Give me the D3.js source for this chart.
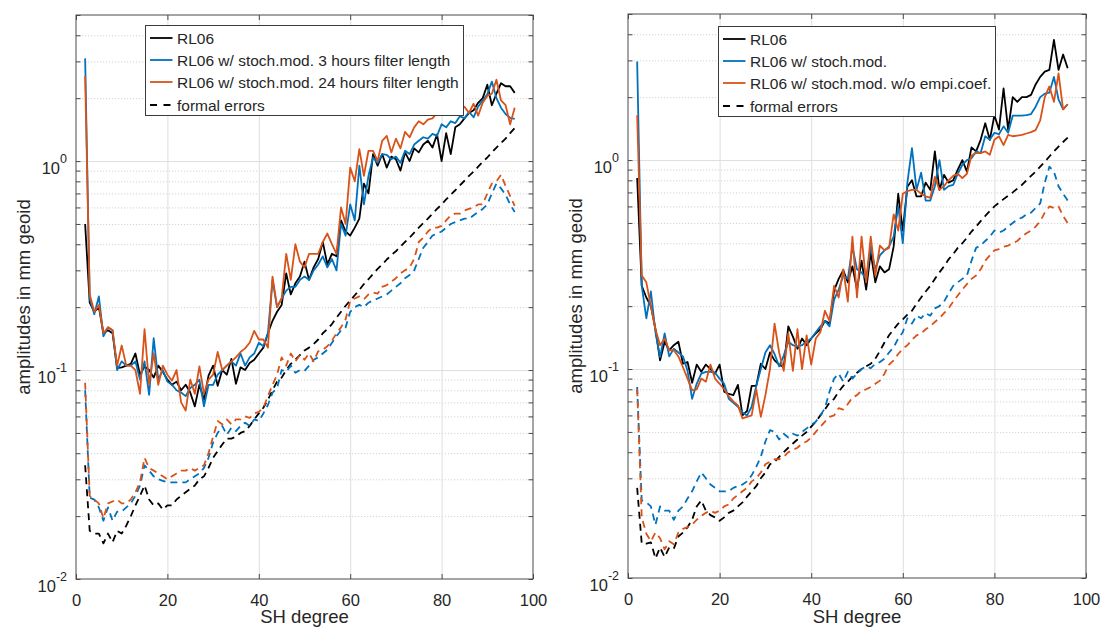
<!DOCTYPE html>
<html>
<head>
<meta charset="utf-8">
<script src="https://cdn.jsdelivr.net/npm/d3@7"></script>
<style>
  html, body { margin: 0; padding: 0; background: #fff; }
  svg { display: block; font-family: "Liberation Sans", Arial, Helvetica, sans-serif; }
</style>
</head>
<body>
<svg id="fig" width="1100" height="627"></svg>
<script>
// ---------- data ----------
const degrees = d3.range(2, 97);            // SH degree 2 … 96
const xDomain = [0, 100];
const yDomain = [0.01, 5];
const xTickValues = [0, 20, 40, 60, 80, 100];
const xGridValues = [20, 40, 60, 80];
const yDecades = [0.01, 0.1, 1];
const yTickExponents = ["-2", "-1", "0"];
const xAxisLabel = "SH degree";
const yAxisLabel = "amplitudes in mm geoid";

const legendLeft = ["RL06", "RL06 w/ stoch.mod. 3 hours filter length",
                    "RL06 w/ stoch.mod. 24 hours filter length", "formal errors"];
const legendRight = ["RL06", "RL06 w/ stoch.mod.",
                     "RL06 w/ stoch.mod. w/o empi.coef.", "formal errors"];

// left panel: degree amplitudes
const leftRL06 = [
  0.50, 0.21, 0.19, 0.20, 0.15, 0.155, 0.15, 0.102, 0.103, 0.105,
  0.107, 0.12, 0.095, 0.104, 0.10, 0.092, 0.105, 0.098, 0.09, 0.085,
  0.088, 0.08, 0.085, 0.078, 0.067, 0.085, 0.072, 0.094, 0.105, 0.084,
  0.10, 0.095, 0.113, 0.086, 0.103, 0.10, 0.108, 0.112, 0.12, 0.128,
  0.15, 0.172, 0.19, 0.205, 0.29, 0.23, 0.26, 0.28, 0.33, 0.27,
  0.31, 0.34, 0.41, 0.32, 0.36, 0.35, 0.52, 0.46, 0.44, 0.48,
  0.53, 0.78, 0.70, 1.08, 0.95, 1.08, 0.93, 1.05, 1.02, 0.90,
  1.10, 1.00, 1.15, 1.10, 1.20, 1.25, 1.16, 1.34, 1.00, 1.36,
  1.08, 1.45, 1.50, 1.60, 1.70, 1.75, 1.90, 2.00, 2.32, 1.85,
  2.10, 2.36, 2.28, 2.28, 2.12
];
const leftStoch3h = [
  3.1, 0.22, 0.185, 0.225, 0.145, 0.16, 0.155, 0.10, 0.11, 0.105,
  0.105, 0.11, 0.09, 0.11, 0.076, 0.142, 0.09, 0.10, 0.088, 0.085,
  0.08, 0.078, 0.075, 0.082, 0.085, 0.09, 0.067, 0.085, 0.085, 0.095,
  0.10, 0.105, 0.11, 0.105, 0.12, 0.105, 0.115, 0.12, 0.135, 0.13,
  0.15, 0.27, 0.20, 0.22, 0.24, 0.25, 0.25, 0.27, 0.28, 0.27,
  0.30, 0.32, 0.35, 0.31, 0.34, 0.30, 0.50, 0.44, 0.62, 0.52,
  0.95, 0.62, 0.85, 1.04, 0.98, 1.08, 1.07, 1.02, 1.05, 0.98,
  1.12, 1.08, 1.20, 1.25, 1.30, 1.28, 1.35, 1.32, 1.50, 1.45,
  1.55, 1.52, 1.64, 1.60, 1.72, 1.62, 1.82, 1.95, 2.09, 2.40,
  2.00, 1.80, 1.68, 1.61, 1.59
];
const leftStoch24h = [
  2.55, 0.23, 0.19, 0.205, 0.15, 0.16, 0.155, 0.105, 0.131, 0.105,
  0.105, 0.10, 0.077, 0.157, 0.085, 0.12, 0.085, 0.105, 0.095, 0.089,
  0.10, 0.07, 0.064, 0.09, 0.077, 0.104, 0.077, 0.09, 0.095, 0.122,
  0.10, 0.105, 0.11, 0.115, 0.122, 0.127, 0.135, 0.154, 0.14, 0.14,
  0.128, 0.28, 0.20, 0.22, 0.36, 0.27, 0.40, 0.33, 0.31, 0.36,
  0.36, 0.36, 0.41, 0.45, 0.40, 0.36, 0.60, 0.50, 0.93, 0.80,
  1.14, 0.85, 1.12, 1.12, 1.00, 1.25, 1.32, 1.10, 1.28, 1.15,
  1.38, 1.30, 1.45, 1.55, 1.50, 1.58, 1.60, 1.70, 1.68, 1.78,
  1.70, 1.85, 1.75, 1.82, 1.70, 1.88, 1.65, 1.90, 2.05, 2.10,
  2.45, 1.95, 1.85, 1.50, 1.80
];
// left panel: formal errors
const leftFormalRL06 = [
  0.035, 0.017, 0.0165, 0.0165, 0.0148, 0.0165, 0.015, 0.017, 0.0165, 0.018,
  0.020, 0.0225, 0.025, 0.028, 0.024, 0.0225, 0.023, 0.0215, 0.0225, 0.0225,
  0.024, 0.025, 0.026, 0.027, 0.028, 0.030, 0.031, 0.034, 0.038, 0.041,
  0.044, 0.047, 0.047, 0.048, 0.050, 0.051, 0.054, 0.058, 0.062, 0.066,
  0.072, 0.080, 0.088, 0.092, 0.100, 0.107, 0.112, 0.118, 0.124, 0.128,
  0.133, 0.140, 0.150, 0.157, 0.166, 0.178, 0.190, 0.203, 0.215, 0.228,
  0.242, 0.258, 0.272, 0.288, 0.305, 0.32, 0.338, 0.355, 0.37, 0.39,
  0.41, 0.43, 0.455, 0.48, 0.505, 0.53, 0.56, 0.59, 0.62, 0.655,
  0.69, 0.725, 0.765, 0.805, 0.85, 0.89, 0.94, 0.99, 1.04, 1.10,
  1.16, 1.22, 1.28, 1.36, 1.44
];
const leftFormal3h = [
  0.08, 0.0245, 0.024, 0.022, 0.019, 0.022, 0.019, 0.021, 0.021, 0.022,
  0.023, 0.025, 0.028, 0.035, 0.033, 0.031, 0.030, 0.0295, 0.029, 0.029,
  0.029, 0.029, 0.029, 0.030, 0.031, 0.032, 0.034, 0.038, 0.045, 0.050,
  0.054, 0.049, 0.053, 0.051, 0.054, 0.056, 0.054, 0.058, 0.057, 0.062,
  0.068, 0.078, 0.082, 0.10, 0.098, 0.105, 0.097, 0.10, 0.099, 0.105,
  0.112, 0.115, 0.12, 0.125, 0.135, 0.145, 0.155, 0.16, 0.19, 0.20,
  0.205, 0.20, 0.21, 0.215, 0.22, 0.225, 0.23, 0.24, 0.25, 0.26,
  0.275, 0.285, 0.30, 0.34, 0.385, 0.41, 0.44, 0.45, 0.46, 0.48,
  0.50, 0.51, 0.52, 0.53, 0.53, 0.55, 0.57, 0.59, 0.62, 0.70,
  0.78, 0.74, 0.69, 0.62, 0.57
];
const leftFormal24h = [
  0.087, 0.025, 0.024, 0.023, 0.0195, 0.023, 0.0235, 0.024, 0.023, 0.023,
  0.024, 0.026, 0.029, 0.038, 0.034, 0.033, 0.032, 0.031, 0.030, 0.031,
  0.032, 0.033, 0.033, 0.034, 0.033, 0.034, 0.035, 0.040, 0.048, 0.057,
  0.055, 0.058, 0.055, 0.058, 0.058, 0.060, 0.059, 0.062, 0.063, 0.066,
  0.075, 0.085, 0.095, 0.115, 0.105, 0.12, 0.11, 0.118, 0.112, 0.12,
  0.11, 0.123, 0.125, 0.13, 0.138, 0.15, 0.16, 0.175, 0.215, 0.22,
  0.225, 0.218, 0.23, 0.235, 0.232, 0.25, 0.255, 0.265, 0.275, 0.29,
  0.30, 0.31, 0.34, 0.41, 0.43, 0.46, 0.48, 0.48, 0.49, 0.52,
  0.55, 0.56, 0.56, 0.58, 0.59, 0.60, 0.62, 0.62, 0.70, 0.78,
  0.80, 0.86, 0.76, 0.68, 0.61
];

// right panel: degree amplitudes
const rightRL06 = [
  0.82, 0.25, 0.22, 0.20, 0.155, 0.11, 0.135, 0.123, 0.13, 0.135,
  0.106, 0.108, 0.086, 0.105, 0.097, 0.105, 0.10, 0.095, 0.105, 0.078,
  0.076, 0.075, 0.084, 0.060, 0.063, 0.083, 0.083, 0.106, 0.10, 0.12,
  0.11, 0.105, 0.102, 0.16, 0.143, 0.125, 0.14, 0.13, 0.14, 0.148,
  0.155, 0.17, 0.165, 0.238, 0.27, 0.297, 0.26, 0.31, 0.24, 0.33,
  0.24, 0.36, 0.26, 0.31, 0.29, 0.30, 0.385, 0.69, 0.46, 0.745,
  0.80, 0.67, 0.67, 0.78, 0.72, 1.10, 0.72, 0.85, 0.78, 0.80,
  0.90, 1.00, 0.88, 1.15, 1.10, 1.25, 1.50, 1.25, 1.64, 1.40,
  2.20, 1.40, 2.00, 1.90, 2.00, 2.00, 2.05, 2.30, 2.50, 2.65,
  2.70, 3.76, 2.70, 3.20, 2.75
];
const rightStoch = [
  2.96, 0.25, 0.175, 0.235, 0.15, 0.114, 0.148, 0.115, 0.125, 0.12,
  0.115, 0.098, 0.072, 0.085, 0.095, 0.097, 0.097, 0.096, 0.09, 0.085,
  0.072, 0.069, 0.066, 0.062, 0.06, 0.066, 0.083, 0.10, 0.12, 0.13,
  0.118, 0.103, 0.116, 0.135, 0.13, 0.128, 0.13, 0.135, 0.14, 0.15,
  0.16, 0.17, 0.16, 0.215, 0.24, 0.28, 0.27, 0.385, 0.30, 0.29,
  0.27, 0.385, 0.30, 0.35, 0.37, 0.385, 0.43, 0.60, 0.40, 0.78,
  1.14, 0.72, 0.87, 0.64, 0.64, 0.75, 1.00, 0.72, 0.75, 0.76,
  0.86, 0.95, 1.00, 1.02, 1.10, 1.08, 1.30, 1.25, 1.35, 1.33,
  1.45, 1.35, 1.63, 1.63, 1.63, 1.64, 1.66, 1.80, 2.00, 2.08,
  2.10, 2.50, 1.95, 1.75, 1.85
];
const rightNoEmpi = [
  1.64, 0.28, 0.26, 0.20, 0.155, 0.13, 0.14, 0.123, 0.123, 0.115,
  0.102, 0.09, 0.079, 0.08, 0.09, 0.087, 0.105, 0.09, 0.085, 0.08,
  0.074, 0.07, 0.067, 0.058, 0.059, 0.06, 0.08, 0.059, 0.075, 0.10,
  0.165, 0.12, 0.098, 0.148, 0.098, 0.155, 0.10, 0.145, 0.105, 0.14,
  0.15, 0.19, 0.17, 0.25, 0.22, 0.30, 0.21, 0.43, 0.22, 0.43,
  0.26, 0.43, 0.28, 0.39, 0.37, 0.38, 0.55, 0.46, 0.69, 0.71,
  0.72, 0.72, 0.69, 0.67, 0.66, 0.83, 0.72, 0.75, 0.80, 0.84,
  0.86, 0.82, 0.86, 1.05, 1.08, 1.08, 1.10, 1.06, 1.25, 1.30,
  1.18, 1.32, 1.30, 1.31, 1.32, 1.34, 1.36, 1.39, 1.55, 2.00,
  2.25, 1.90, 2.60, 1.75, 1.85
];
// right panel: formal errors
const rightFormalRL06 = [
  0.027, 0.0146, 0.0146, 0.0148, 0.0124, 0.014, 0.0126, 0.014, 0.0138, 0.0158,
  0.0165, 0.0175, 0.019, 0.022, 0.0235, 0.021, 0.020, 0.0195, 0.0188, 0.0195,
  0.0205, 0.021, 0.022, 0.023, 0.0245, 0.026, 0.0275, 0.030, 0.032, 0.035,
  0.036, 0.038, 0.040, 0.042, 0.044, 0.046, 0.048, 0.050, 0.053, 0.056,
  0.060, 0.064, 0.069, 0.072, 0.078, 0.083, 0.087, 0.092, 0.096, 0.100,
  0.103, 0.106, 0.112, 0.122, 0.134, 0.145, 0.155, 0.165, 0.173, 0.182,
  0.19, 0.205, 0.22, 0.235, 0.25, 0.27, 0.29, 0.31, 0.335, 0.355,
  0.38, 0.40, 0.425, 0.455, 0.48, 0.51, 0.54, 0.57, 0.60, 0.625,
  0.65, 0.675, 0.70, 0.73, 0.76, 0.80, 0.84, 0.88, 0.93, 0.98,
  1.04, 1.10, 1.16, 1.22, 1.28
];
const rightFormalStoch = [
  0.082, 0.0235, 0.023, 0.022, 0.018, 0.022, 0.021, 0.021, 0.019, 0.021,
  0.022, 0.024, 0.026, 0.029, 0.032, 0.030, 0.028, 0.027, 0.026, 0.026,
  0.026, 0.027, 0.0275, 0.028, 0.029, 0.031, 0.034, 0.038, 0.045, 0.051,
  0.050, 0.046, 0.049, 0.047, 0.049, 0.048, 0.050, 0.052, 0.054, 0.056,
  0.060, 0.065, 0.078, 0.090, 0.095, 0.087, 0.097, 0.090, 0.095, 0.100,
  0.103, 0.101, 0.106, 0.108, 0.112, 0.12, 0.127, 0.14, 0.15, 0.175,
  0.165, 0.18, 0.175, 0.185, 0.18, 0.195, 0.20, 0.21, 0.23, 0.25,
  0.26, 0.27, 0.28, 0.33, 0.38, 0.39, 0.41, 0.43, 0.46, 0.45,
  0.46, 0.48, 0.50, 0.52, 0.53, 0.55, 0.56, 0.59, 0.62, 0.78,
  0.93, 0.88, 0.75, 0.69, 0.64
];
const rightFormalNoEmpi = [
  0.08, 0.0195, 0.0163, 0.015, 0.0165, 0.0155, 0.0137, 0.015, 0.0145, 0.0165,
  0.0172, 0.0175, 0.018, 0.019, 0.0198, 0.0205, 0.021, 0.0205, 0.021, 0.022,
  0.0225, 0.024, 0.025, 0.026, 0.027, 0.029, 0.030, 0.032, 0.035, 0.036,
  0.037, 0.037, 0.038, 0.040, 0.041, 0.042, 0.044, 0.045, 0.047, 0.050,
  0.053, 0.056, 0.059, 0.060, 0.065, 0.064, 0.068, 0.073, 0.075, 0.079,
  0.080, 0.082, 0.085, 0.088, 0.095, 0.105, 0.11, 0.118, 0.125, 0.13,
  0.138, 0.145, 0.148, 0.155, 0.16, 0.168, 0.175, 0.185, 0.195, 0.21,
  0.225, 0.24, 0.255, 0.27, 0.28, 0.30, 0.33, 0.35, 0.37, 0.375,
  0.385, 0.39, 0.40, 0.41, 0.43, 0.446, 0.46, 0.48, 0.51, 0.56,
  0.60, 0.59, 0.60, 0.54, 0.50
];

// ---------- styling / layout ----------
const COLORS = { black: "#000000", blue: "#0072BD", orange: "#D95319" };
const INK = "#262626";
const AXIS_STROKE = "#4a4a4a";
const TICK_FONT = 16.5, LABEL_FONT = 18.5, LEGEND_FONT = 15.5;

const panels = [
  {
    box: { x0: 76, x1: 533, y0: 15, y1: 579 },
    legend: { x: 145.5, y: 25.5, w: 318, h: 90, labels: legendLeft },
    series: [
      { values: leftRL06, color: COLORS.black, dashed: false },
      { values: leftStoch3h, color: COLORS.blue, dashed: false },
      { values: leftStoch24h, color: COLORS.orange, dashed: false },
      { values: leftFormalRL06, color: COLORS.black, dashed: true },
      { values: leftFormal3h, color: COLORS.blue, dashed: true },
      { values: leftFormal24h, color: COLORS.orange, dashed: true }
    ]
  },
  {
    box: { x0: 628, x1: 1086, y0: 14, y1: 578 },
    legend: { x: 718.5, y: 26.5, w: 277, h: 90, labels: legendRight },
    series: [
      { values: rightRL06, color: COLORS.black, dashed: false },
      { values: rightStoch, color: COLORS.blue, dashed: false },
      { values: rightNoEmpi, color: COLORS.orange, dashed: false },
      { values: rightFormalRL06, color: COLORS.black, dashed: true },
      { values: rightFormalStoch, color: COLORS.blue, dashed: true },
      { values: rightFormalNoEmpi, color: COLORS.orange, dashed: true }
    ]
  }
];
const legendStyles = [
  { color: COLORS.black, dashed: false },
  { color: COLORS.blue, dashed: false },
  { color: COLORS.orange, dashed: false },
  { color: COLORS.black, dashed: true }
];

const svg = d3.select("#fig");
svg.append("rect").attr("width", 1100).attr("height", 627).attr("fill", "#fff");

panels.forEach((p, pi) => {
  const b = p.box;
  const w = b.x1 - b.x0, h = b.y1 - b.y0;
  const x = d3.scaleLinear().domain(xDomain).range([b.x0, b.x1]);
  const y = d3.scaleLog().domain(yDomain).range([b.y1, b.y0]);
  const allY = y.ticks();                       // 0.01,0.02,…,1,2,…,5
  const minorY = allY.filter(v => !yDecades.some(d => Math.abs(v - d) < 1e-12));
  const g = svg.append("g").attr("class", "panel-" + pi);

  // --- grid ---
  const gridMinor = g.append("g").attr("transform", `translate(${b.x0},0)`)
    .call(d3.axisLeft(y).tickValues(minorY.filter(v => v < yDomain[1])).tickSize(-w).tickFormat(""));
  gridMinor.select(".domain").remove();
  gridMinor.selectAll("line").attr("stroke", "#c8c8c8").attr("stroke-width", 0.8)
    .attr("stroke-dasharray", "1.2,1.8");

  const gridMajorY = g.append("g").attr("transform", `translate(${b.x0},0)`)
    .call(d3.axisLeft(y).tickValues(yDecades.slice(1)).tickSize(-w).tickFormat(""));
  gridMajorY.select(".domain").remove();
  gridMajorY.selectAll("line").attr("stroke", "#dedede").attr("stroke-width", 1);

  const gridX = g.append("g").attr("transform", `translate(0,${b.y1})`)
    .call(d3.axisBottom(x).tickValues(xGridValues).tickSize(-h).tickFormat(""));
  gridX.select(".domain").remove();
  gridX.selectAll("line").attr("stroke", "#dedede").attr("stroke-width", 1);

  // --- data lines ---
  const clipId = "clip" + pi;
  g.append("clipPath").attr("id", clipId).append("rect")
    .attr("x", b.x0).attr("y", b.y0).attr("width", w).attr("height", h);
  const line = d3.line().x((d, i) => x(degrees[i])).y(d => y(d));
  const dataG = g.append("g").attr("clip-path", `url(#${clipId})`);
  p.series.forEach(s => {
    dataG.append("path").datum(s.values)
      .attr("d", line)
      .attr("fill", "none")
      .attr("stroke", s.color)
      .attr("stroke-width", 1.8)
      .attr("stroke-linejoin", "round")
      .attr("stroke-dasharray", s.dashed ? "7,5" : null);
  });

  // --- axes box & ticks ---
  const styleAxis = sel => {
    sel.select(".domain").remove();
    sel.selectAll(".tick line").attr("stroke", AXIS_STROKE).attr("stroke-width", 1);
    sel.selectAll(".tick text").attr("fill", INK).attr("font-size", TICK_FONT)
      .attr("font-family", "Liberation Sans, Arial, Helvetica, sans-serif");
  };
  g.append("g").attr("transform", `translate(0,${b.y1})`)
    .call(d3.axisBottom(x).tickValues(xTickValues).tickSizeInner(-5).tickSizeOuter(0).tickPadding(15))
    .call(styleAxis);
  g.append("g").attr("transform", `translate(0,${b.y0})`)
    .call(d3.axisTop(x).tickValues(xTickValues).tickSizeInner(-5).tickSizeOuter(0).tickFormat(""))
    .call(styleAxis);
  g.append("g").attr("transform", `translate(${b.x0},0)`)
    .call(d3.axisLeft(y).tickValues(allY).tickSizeInner(-4.5).tickSizeOuter(0).tickFormat(""))
    .call(styleAxis);
  g.append("g").attr("transform", `translate(${b.x1},0)`)
    .call(d3.axisRight(y).tickValues(allY).tickSizeInner(-4.5).tickSizeOuter(0).tickFormat(""))
    .call(styleAxis);
  g.append("rect").attr("x", b.x0).attr("y", b.y0).attr("width", w).attr("height", h)
    .attr("fill", "none").attr("stroke", AXIS_STROKE).attr("stroke-width", 1);

  // y tick labels: 10 with superscript exponent
  yDecades.forEach((v, i) => {
    const t = g.append("text")
      .attr("x", b.x0 - 9).attr("y", y(v) + 13)
      .attr("text-anchor", "end").attr("fill", INK).attr("font-size", TICK_FONT);
    t.append("tspan").text("10");
    t.append("tspan").attr("dy", -11).attr("font-size", 12.5).text(yTickExponents[i]);
  });

  // axis labels
  g.append("text").attr("x", (b.x0 + b.x1) / 2).attr("y", 623)
    .attr("text-anchor", "middle").attr("fill", INK).attr("font-size", LABEL_FONT)
    .text(xAxisLabel);
  g.append("text")
    .attr("transform", `translate(${b.x0 - 46},${(b.y0 + b.y1) / 2}) rotate(-90)`)
    .attr("text-anchor", "middle").attr("fill", INK).attr("font-size", LABEL_FONT)
    .text(yAxisLabel);

  // --- legend ---
  const L = p.legend;
  const lg = g.append("g");
  lg.append("rect").attr("x", L.x).attr("y", L.y).attr("width", L.w).attr("height", L.h)
    .attr("fill", "#fff").attr("stroke", "#3a3a3a").attr("stroke-width", 1);
  const rowY = [12.5, 34.5, 56.5, 79.5];
  L.labels.forEach((lab, i) => {
    const st = legendStyles[i];
    const cy = L.y + rowY[i];
    lg.append("line").attr("x1", L.x + 4.5).attr("x2", L.x + 27)
      .attr("y1", cy).attr("y2", cy)
      .attr("stroke", st.color).attr("stroke-width", 1.8)
      .attr("stroke-dasharray", st.dashed ? "7,6.5" : null);
    lg.append("text").attr("x", L.x + 31.5).attr("y", cy + 5.5)
      .attr("fill", INK).attr("font-size", LEGEND_FONT).text(lab);
  });
});
</script>
</body>
</html>
